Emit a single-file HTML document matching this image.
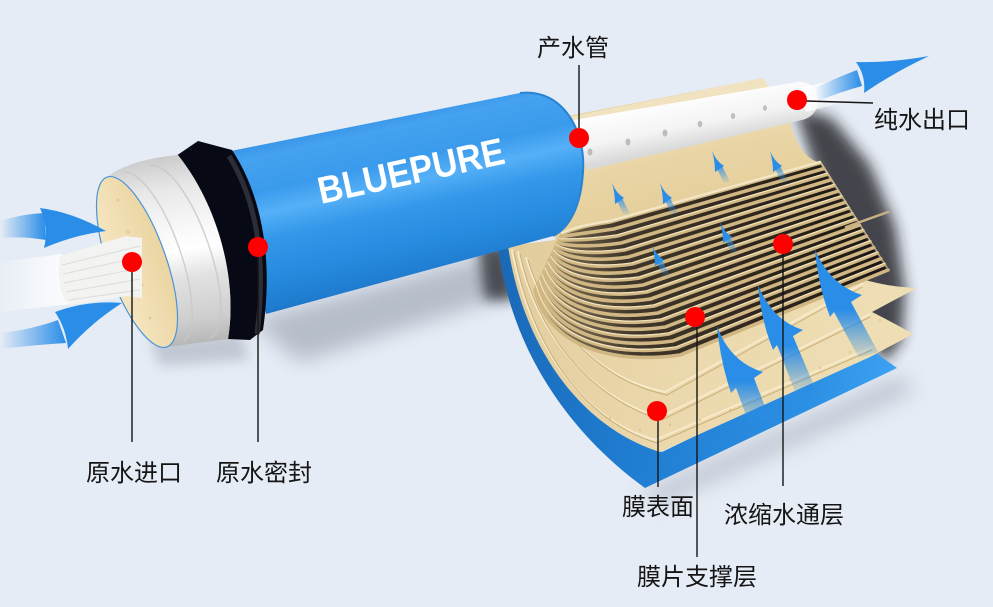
<!DOCTYPE html>
<html>
<head>
<meta charset="utf-8">
<style>
  html,body{margin:0;padding:0;background:#e6ecf5;}
  svg{display:block;}
  .lbl{font-family:"Liberation Sans","Noto Sans CJK SC",sans-serif;font-size:24px;fill:#151515;}
</style>
</head>
<body>
<svg width="993" height="607" viewBox="0 0 993 607" xmlns="http://www.w3.org/2000/svg">
  <defs>
    <filter id="b10" x="-50%" y="-50%" width="200%" height="200%"><feGaussianBlur stdDeviation="10"/></filter>
    <filter id="b7" x="-50%" y="-50%" width="200%" height="200%"><feGaussianBlur stdDeviation="7"/></filter>
    <filter id="b6" x="-50%" y="-50%" width="200%" height="200%"><feGaussianBlur stdDeviation="6"/></filter>
    <filter id="b1" x="-10%" y="-10%" width="120%" height="120%"><feGaussianBlur stdDeviation="0.7"/></filter>
    <linearGradient id="tubeG" gradientUnits="userSpaceOnUse" x1="370" y1="110" x2="410" y2="292">
      <stop offset="0" stop-color="#2f8be0"/>
      <stop offset="0.12" stop-color="#45a2f0"/>
      <stop offset="0.3" stop-color="#3a9aec"/>
      <stop offset="0.42" stop-color="#55b0f7"/>
      <stop offset="0.56" stop-color="#3397ea"/>
      <stop offset="0.76" stop-color="#268bde"/>
      <stop offset="0.92" stop-color="#1f7ccf"/>
      <stop offset="1" stop-color="#1a6bbb"/>
    </linearGradient>
    <linearGradient id="capG" gradientUnits="userSpaceOnUse" x1="160" y1="155" x2="190" y2="348">
      <stop offset="0" stop-color="#c9c9c9"/>
      <stop offset="0.18" stop-color="#e8e8e8"/>
      <stop offset="0.4" stop-color="#f9f9f9"/>
      <stop offset="0.5" stop-color="#ffffff"/>
      <stop offset="0.64" stop-color="#e2e2e2"/>
      <stop offset="0.86" stop-color="#cecece"/>
      <stop offset="1" stop-color="#b3b3b3"/>
    </linearGradient>
    <linearGradient id="faceG" gradientUnits="userSpaceOnUse" x1="105" y1="262" x2="170" y2="262">
      <stop offset="0" stop-color="#f6e7c4"/>
      <stop offset="1" stop-color="#ead39f"/>
    </linearGradient>
    <linearGradient id="backG" gradientUnits="userSpaceOnUse" x1="500" y1="300" x2="895" y2="370">
      <stop offset="0" stop-color="#1a6ab8"/>
      <stop offset="0.35" stop-color="#1f7bcf"/>
      <stop offset="0.8" stop-color="#2b8fe3"/>
      <stop offset="1" stop-color="#3da2f3"/>
    </linearGradient>
    <linearGradient id="creamG" gradientUnits="userSpaceOnUse" x1="520" y1="250" x2="880" y2="330">
      <stop offset="0" stop-color="#e2cd9e"/>
      <stop offset="0.5" stop-color="#ebd8ac"/>
      <stop offset="1" stop-color="#efdeb4"/>
    </linearGradient>
    <linearGradient id="upperG" gradientUnits="userSpaceOnUse" x1="680" y1="120" x2="700" y2="215">
      <stop offset="0" stop-color="#f1e3c0"/>
      <stop offset="0.35" stop-color="#e9d5a5"/>
      <stop offset="1" stop-color="#e4ce9a"/>
    </linearGradient>
    <linearGradient id="stripeBg" gradientUnits="userSpaceOnUse" x1="540" y1="280" x2="880" y2="230">
      <stop offset="0" stop-color="#8a7a5c"/>
      <stop offset="0.25" stop-color="#40362a"/>
      <stop offset="1" stop-color="#1c1712"/>
    </linearGradient>
    <linearGradient id="pipeG" gradientUnits="userSpaceOnUse" x1="680" y1="96" x2="690" y2="146">
      <stop offset="0" stop-color="#ffffff"/>
      <stop offset="0.6" stop-color="#f4f4f4"/>
      <stop offset="1" stop-color="#d9d9d9"/>
    </linearGradient>
    <linearGradient id="arrG" x1="0" y1="0" x2="0" y2="1">
      <stop offset="0" stop-color="#2a8de8" stop-opacity="1"/>
      <stop offset="0.55" stop-color="#2a8de8" stop-opacity="1"/>
      <stop offset="1" stop-color="#2a8de8" stop-opacity="0.12"/>
    </linearGradient>
    <linearGradient id="tailG" x1="0" y1="0" x2="0" y2="1">
      <stop offset="0" stop-color="#2a8de8" stop-opacity="0.9"/>
      <stop offset="1" stop-color="#2a8de8" stop-opacity="0"/>
    </linearGradient>
    <linearGradient id="shaftR" x1="0" y1="0" x2="1" y2="0">
      <stop offset="0" stop-color="#2a8de8" stop-opacity="0"/>
      <stop offset="1" stop-color="#2a8de8" stop-opacity="1"/>
    </linearGradient>
    <linearGradient id="streamL" x1="0" y1="0" x2="1" y2="0">
      <stop offset="0" stop-color="#ffffff" stop-opacity="0.1"/>
      <stop offset="1" stop-color="#ffffff" stop-opacity="0.95"/>
    </linearGradient>
    <linearGradient id="streamR" x1="0" y1="0" x2="1" y2="0">
      <stop offset="0" stop-color="#ffffff" stop-opacity="0.9"/>
      <stop offset="1" stop-color="#ffffff" stop-opacity="0"/>
    </linearGradient>
    <g id="sa">
      <path d="M4,15 L9,13 L18,31 L12,33 Z" fill="url(#tailG)"/>
      <path d="M0,0 Q4,10 12,15 L3,21 Q3,10 0,0 Z" fill="#2a8de8"/>
    </g>
  </defs>

  <rect x="0" y="0" width="993" height="607" fill="#e6ecf5"/>

  <!-- shadows -->
  <path d="M250,320 L500,252 L525,290 L300,362 Z" fill="#7c8594" opacity="0.45" filter="url(#b10)"/>
  <path d="M150,340 L240,332 L250,360 L160,366 Z" fill="#7c8594" opacity="0.35" filter="url(#b6)"/>
  <path d="M478,242 L510,245 L515,300 L485,300 Z" fill="#1b1d22" opacity="0.7" filter="url(#b6)"/>
  <path d="M795,108 L832,118 L870,165 L895,225 L905,290 L902,340 L885,362 L860,330 L815,170 Z" fill="#1c1d22" opacity="0.8" filter="url(#b7)"/>
  <path d="M640,492 L900,375 L915,392 L660,505 Z" fill="#8a93a2" opacity="0.4" filter="url(#b10)"/>

  <!-- membrane blue backing -->
  <path d="M498,246 C510,345 565,430 645,488 L897,368 L872,350 L662,452 C585,420 528,340 510,246 Z" fill="url(#backG)"/>
  <!-- cream base -->
  <path d="M508,246 C522,340 575,425 660,452 L870,357 L913,334 Q892,322 872,312 L917,288 Q888,287 862,279 L888,268 L822,163 Q800,160 790,122 L763,78 L563,117 L555,240 Z" fill="url(#creamG)"/>
  <!-- sheet layer lines -->
  <g fill="none" stroke-linecap="round">
    <path d="M512,250 C528,338 578,418 655,440 L872,347" stroke="#f7eaca" stroke-width="2"/>
    <path d="M514,252 C530,340 580,420 657,443 L872,350" stroke="#c8ae7a" stroke-width="1"/>
    <path d="M518,252 C534,328 586,396 660,417 L870,314" stroke="#f7eaca" stroke-width="2"/>
    <path d="M520,254 C536,330 588,398 662,420 L870,317" stroke="#c8ae7a" stroke-width="1"/>
    <path d="M526,258 C544,318 594,378 665,392 L862,284" stroke="#f7eaca" stroke-width="2"/>
    <path d="M528,260 C546,320 596,380 667,395 L862,287" stroke="#c8ae7a" stroke-width="1"/>
  </g>
  <g fill="#d7a860" opacity="0.45">
    <circle cx="760" cy="395" r="1.2"/><circle cx="790" cy="380" r="1.2"/><circle cx="820" cy="368" r="1.2"/><circle cx="700" cy="420" r="1.2"/>
    <circle cx="730" cy="410" r="1.2"/><circle cx="850" cy="352" r="1.2"/><circle cx="880" cy="320" r="1.2"/><circle cx="845" cy="330" r="1.2"/>
    <circle cx="640" cy="430" r="1.2"/><circle cx="670" cy="425" r="1.2"/><circle cx="610" cy="418" r="1.2"/>
  </g>
  <!-- upper sheet -->
  <path d="M563,118 L763,78 L790,122 Q800,160 822,163 L610,222 L562,234 Z" fill="url(#upperG)"/>

  <!-- stripes block -->
  <path d="M562,234 C575,228 590,225 610,222 L820,163 L888,270 L680,355 C610,365 548,345 535,290 Z" fill="url(#stripeBg)" filter="url(#b1)"/>
  <g fill="none" stroke="#cfb683" stroke-width="3.6" stroke-linecap="round">
    <path d="M562,234 C575,228 590,225 610,222 L820,163"/>
    <path d="M560.6,237 C573.6,234.2 591.1,232.4 613.7,229 L823.6,168.6"/>
    <path d="M559.2,239.9 C572.2,240.3 592.1,239.7 617.4,236 L827.2,174.3"/>
    <path d="M557.7,242.8 C570.7,246.5 593.2,247.1 621.1,243 L830.7,179.9"/>
    <path d="M556.3,245.8 C569.3,252.6 594.2,254.5 624.7,250 L834.3,185.5"/>
    <path d="M554.9,248.7 C567.9,258.8 595.3,261.8 628.4,257 L837.9,191.2"/>
    <path d="M553.5,251.7 C566.5,265 596.3,269.2 632.1,264 L841.5,196.8"/>
    <path d="M552.1,254.6 C565.1,271.1 597.4,276.6 635.8,271 L845.1,202.4"/>
    <path d="M550.6,257.6 C563.6,277.3 598.4,284 639.5,278 L848.6,208.1"/>
    <path d="M549.2,260.5 C562.2,283.4 599.5,291.3 643.2,285 L852.2,213.7"/>
    <path d="M547.8,263.5 C560.8,289.6 600.5,298.7 646.8,292 L855.8,219.3"/>
    <path d="M546.4,266.4 C559.4,295.7 601.6,306.1 650.5,299 L859.4,225"/>
    <path d="M545,269.4 C558,301.9 602.6,313.4 654.2,306 L863,230.6"/>
    <path d="M543.5,272.3 C556.5,308.1 603.7,320.8 657.9,313 L866.5,236.2"/>
    <path d="M542.1,275.3 C555.1,314.2 604.7,328.2 661.6,320 L870.1,241.8"/>
    <path d="M540.7,278.2 C553.7,320.4 605.8,335.5 665.3,327 L873.7,247.5"/>
    <path d="M539.3,281.2 C552.3,326.5 606.8,342.9 668.9,334 L877.3,253.1"/>
    <path d="M537.8,284.1 C550.8,332.7 607.9,350.3 672.6,341 L880.8,258.7"/>
    <path d="M536.4,287.1 C549.4,338.8 608.9,357.6 676.3,348 L884.4,264.4"/>
    <path d="M535,290 C548,345 610,365 680,355 L888,270"/>
  </g>
  <g fill="none" stroke="#f1e3bd" stroke-width="1.2" stroke-linecap="round" transform="translate(0,-1.2)">
    <path d="M562,234 C575,228 590,225 610,222 L820,163"/>
    <path d="M559.2,239.9 C572.2,240.3 592.1,239.7 617.4,236 L827.2,174.3"/>
    <path d="M556.3,245.8 C569.3,252.6 594.2,254.5 624.7,250 L834.3,185.5"/>
    <path d="M553.5,251.7 C566.5,265 596.3,269.2 632.1,264 L841.5,196.8"/>
    <path d="M550.6,257.6 C563.6,277.3 598.4,284 639.5,278 L848.6,208.1"/>
    <path d="M547.8,263.5 C560.8,289.6 600.5,298.7 646.8,292 L855.8,219.3"/>
    <path d="M545,269.4 C558,301.9 602.6,313.4 654.2,306 L863,230.6"/>
    <path d="M542.1,275.3 C555.1,314.2 604.7,328.2 661.6,320 L870.1,241.8"/>
    <path d="M539.3,281.2 C552.3,326.5 606.8,342.9 668.9,334 L877.3,253.1"/>
    <path d="M536.4,287.1 C549.4,338.8 608.9,357.6 676.3,348 L884.4,264.4"/>
  </g>
  <!-- lighter lip along top of stripes -->
  <path d="M562,233 C575,227 590,224 610,221 L820,162" fill="none" stroke="#f3e6c4" stroke-width="2.5" stroke-linecap="round"/>
  <!-- rod -->
  <path d="M846,227 L888,212" stroke="#c9b184" stroke-width="2.5" stroke-linecap="round"/>

  <!-- small arrows -->
  <use href="#sa" x="612" y="183"/>
  <use href="#sa" x="660" y="183"/>
  <use href="#sa" x="712" y="151"/>
  <use href="#sa" x="770" y="151"/>
  <use href="#sa" x="652" y="245"/>
  <use href="#sa" x="720" y="222"/>

  <!-- big arrows -->
  <path d="M717,326 Q730,362 763,372 L754,378 L770,420 L750,426 L736,388 L731,393 Q720,360 717,326 Z" fill="url(#arrG)"/>
  <path d="M758,285 Q772,320 803,330 L793,336 L815,388 L796,394 L777,345 L773,350 Q761,320 758,285 Z" fill="url(#arrG)"/>
  <path d="M815,250 Q830,285 862,295 L851,302 L878,352 L859,358 L834,312 L830,317 Q818,285 815,250 Z" fill="url(#arrG)"/>

  <!-- product pipe -->
  <path d="M562,122 L797,82 C822,79 826,115 802,120 L588,170 Z" fill="url(#pipeG)"/>
  <g fill="#b5b5b5" opacity="0.85">
    <ellipse cx="590" cy="152" rx="2.5" ry="3.5"/>
    <ellipse cx="628" cy="142" rx="2.5" ry="3.5"/>
    <ellipse cx="665" cy="133" rx="2.5" ry="3.5"/>
    <ellipse cx="700" cy="124" rx="2.3" ry="3.2"/>
    <ellipse cx="733" cy="116" rx="2.2" ry="3"/>
    <ellipse cx="765" cy="108" rx="2" ry="2.8"/>
  </g>

  <!-- main blue tube -->
  <path d="M226,152 L520,93 C562,88 586,130 583,172 C581,205 570,228 553,236 L266,314 Z" fill="url(#tubeG)"/>
  <path d="M520,93 C562,88 586,130 583,172 C581,205 570,228 553,236" fill="none" stroke="#2a82d2" stroke-width="2"/>
  <text x="0" y="0" transform="translate(321,204) rotate(-12.4)" font-family="Liberation Sans, sans-serif" font-size="38" font-weight="bold" fill="#ffffff" textLength="190" lengthAdjust="spacingAndGlyphs">BLUEPURE</text>

  <!-- black seal -->
  <path d="M176,156 L198,141 L232,150 C260,192 274,255 263,330 L250,340 L228,339 C238,280 218,205 176,156 Z" fill="#070a14"/>
  <path d="M229,156 C255,198 267,256 257,334" fill="none" stroke="#2b2e37" stroke-width="5"/>

  <!-- white end cap -->
  <path d="M107,177 C125,163 155,157 178,155 C218,205 238,280 228,339 L167,347 Z" fill="url(#capG)"/>
  <g fill="none" stroke="#c8c8c8" stroke-width="1.5" opacity="0.8">
    <path d="M124,172 A29 90 -19.4 0 1 184,341"/>
    <path d="M150,166 A29 90 -19.4 0 1 210,338"/>
  </g>
  <!-- face -->
  <ellipse cx="137" cy="262" rx="29" ry="90" transform="rotate(-19.4 137 262)" fill="url(#faceG)" stroke="#4a95d8" stroke-width="1.2"/>
  <g fill="#d9c08e" opacity="0.7">
    <circle cx="118" cy="200" r="1.5"/><circle cx="128" cy="232" r="1.5"/><circle cx="150" cy="318" r="1.5"/><circle cx="142" cy="285" r="1.5"/>
  </g>

  <!-- inlet stream and tube -->
  <path d="M0,262 L62,254 L72,304 L0,312 Z" fill="url(#streamL)"/>
  <path d="M60,256 L126,236 L142,238 L142,298 L126,296 L72,305 C62,304 56,282 60,256 Z" fill="#f3f3f1"/>
  <g stroke="#dcdcdc" stroke-width="1" fill="none">
    <path d="M62,265 L140,246"/><path d="M63,274 L140,257"/><path d="M64,283 L140,268"/><path d="M66,292 L140,279"/><path d="M69,300 L140,290"/>
  </g>

  <!-- left arrows -->
  <path d="M0,221 Q22,214 44,213 L46,240 Q22,236 0,238 Z" fill="url(#shaftR)"/>
  <path d="M40,208 Q72,212 106,231 Q74,235 44,248 Q49,228 40,208 Z" fill="#2a8de8"/>
  <path d="M0,333 Q30,330 58,320 L66,343 Q33,345 0,349 Z" fill="url(#shaftR)"/>
  <path d="M55,312 Q88,300 122,303 Q92,322 68,349 Q66,328 55,312 Z" fill="#2a8de8"/>

  <!-- top right outlet -->
  <path d="M800,88 L860,74 L866,96 L806,112 Z" fill="url(#streamR)"/>
  <path d="M815,88 Q836,78 857,70 L862,86 Q840,92 818,101 Z" fill="url(#shaftR)"/>
  <path d="M856,62 Q890,63 929,56 Q893,73 864,93 Q866,76 856,62 Z" fill="#2a8de8"/>

  <!-- leader lines -->
  <g stroke="#141414" stroke-width="1.4" fill="none">
    <path d="M132,272 V442"/>
    <path d="M258,257 V442"/>
    <path d="M579,128 V65"/>
    <path d="M806,101 L873,103"/>
    <path d="M783,254 V486"/>
    <path d="M697,327 V557"/>
    <path d="M658,421 V487"/>
  </g>
  <!-- red dots -->
  <g fill="#ff0000">
    <circle cx="132" cy="262" r="10"/>
    <circle cx="258" cy="247" r="10"/>
    <circle cx="579" cy="138" r="10"/>
    <circle cx="797" cy="100" r="10"/>
    <circle cx="783" cy="244" r="10"/>
    <circle cx="695" cy="317" r="10"/>
    <circle cx="657" cy="411" r="10"/>
  </g>

  <!-- labels -->
  <text class="lbl" x="86" y="481">原水进口</text>
  <text class="lbl" x="216" y="481">原水密封</text>
  <text class="lbl" x="537" y="56">产水管</text>
  <text class="lbl" x="874" y="128">纯水出口</text>
  <text class="lbl" x="622" y="515">膜表面</text>
  <text class="lbl" x="724" y="523">浓缩水通层</text>
  <text class="lbl" x="637" y="585">膜片支撑层</text>
</svg>
</body>
</html>
